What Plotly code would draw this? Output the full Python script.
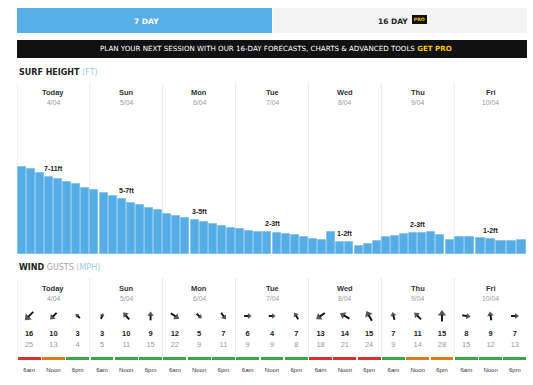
import math
import plotly.graph_objects as go

W, H = 533, 385

days = ["Today", "Sun", "Mon", "Tue", "Wed", "Thu", "Fri"]
dates = ["4/04", "5/04", "6/04", "7/04", "8/04", "9/04", "10/04"]

# surf height per 3-hour slot (ft), one row per day
surf_today = [8.7, 8.5, 8.1, 7.7, 7.5, 7.2, 7.0, 6.6]
surf_sun = [6.4, 6.1, 5.8, 5.5, 5.1, 4.9, 4.6, 4.4]
surf_mon = [4.0, 3.8, 3.6, 3.4, 3.2, 3.0, 2.8, 2.6]
surf_tue = [2.5, 2.3, 2.2, 2.2, 2.1, 2.0, 1.9, 1.7]
surf_wed = [1.5, 1.4, 2.2, 1.2, 1.2, 0.8, 1.0, 1.3]
surf_thu = [1.7, 1.8, 2.0, 2.1, 2.1, 2.2, 1.9, 1.4]
surf_fri = [1.7, 1.7, 1.6, 1.5, 1.3, 1.3, 1.4]
surf_ft = [surf_today, surf_sun, surf_mon, surf_tue, surf_wed, surf_thu, surf_fri]
surf_ranges = ["7-11ft", "5-7ft", "3-5ft", "2-3ft", "1-2ft", "2-3ft", "1-2ft"]

wind_times = ["6am", "Noon", "6pm"]
wind_mph = [[16, 10, 3], [3, 10, 9], [12, 5, 7], [6, 4, 7], [13, 14, 15], [7, 11, 15], [8, 9, 7]]
gust_mph = [[25, 13, 4], [5, 11, 15], [22, 9, 11], [9, 9, 8], [18, 21, 24], [9, 14, 28], [15, 12, 13]]
wind_dir_deg = [[225, 225, 315], [20, 320, 0], [125, 130, 145], [90, 90, 330],
                [235, 300, 330], [345, 315, 0], [100, 350, 90]]
wind_rating = [["poor", "fair", "good"], ["good", "good", "good"], ["good", "good", "good"],
               ["good", "good", "good"], ["poor", "poor", "poor"], ["good", "fair", "fair"],
               ["good", "good", "good"]]

rating_colors = {"poor": "#D8302A", "fair": "#E07B1C", "good": "#37A844"}
BAR_BLUE = "#56ADE5"
SEP = "#E9E9E9"
HEAD_FONT = "DejaVu Sans"
BODY_FONT = "Liberation Sans"

X0, X1 = 17, 527
PX_PER_DAY = (X1 - X0) / 7.0


def py(p):
    return 1 - p / H


def pxx(p):
    return p / W


def note(**kw):
    base = dict(showarrow=False, xanchor="center", yanchor="middle")
    base.update(kw)
    return base


fig = go.Figure()

# ---- surf bars ----
bx, by, bw = [], [], []
for d, vals in enumerate(surf_ft):
    n = len(vals)
    for i, v in enumerate(vals):
        bx.append(d + (i + 0.5) / n)
        by.append(v)
        bw.append(0.88 / n)
fig.add_trace(go.Bar(x=bx, y=by, width=bw, marker=dict(color=BAR_BLUE, line=dict(color="#74BBEA", width=0.8)),
                     hoverinfo="skip", xaxis="x", yaxis="y"))

# ---- wind colour strip ----
sx, sc = [], []
for d in range(len(days)):
    for j in range(3):
        sx.append(d + (j + 0.5) / 3)
        sc.append(rating_colors[wind_rating[d][j]])
fig.add_trace(go.Bar(x=sx, y=[3] * len(sx), base=357, width=0.94 / 3, marker=dict(color=sc, line=dict(width=0)),
                     hoverinfo="skip", xaxis="x", yaxis="y2"))

# ---- wind arrows (shaft lines + rotated triangle heads) ----
ARROW_Y = 316
lx, ly, hx, hy, hang, hsize = [], [], [], [], [], []
for d in range(len(days)):
    for j in range(3):
        s = wind_mph[d][j]
        th = math.radians(wind_dir_deg[d][j])
        L = 4.8 + 0.42 * s
        ux, uy = math.sin(th), -math.cos(th)          # screen direction (y down)
        cx, cy = d + (j + 0.5) / 3, ARROW_Y
        tail = (cx - ux * L / 2 / PX_PER_DAY, cy - uy * L / 2)
        hs = 3.6 + 0.24 * s
        neck = (cx + ux * (L / 2 - hs * 0.6) / PX_PER_DAY, cy + uy * (L / 2 - hs * 0.6))
        lx += [tail[0], neck[0], None]
        ly += [tail[1], neck[1], None]
        hcent = (cx + ux * (L / 2 - hs * 0.45) / PX_PER_DAY, cy + uy * (L / 2 - hs * 0.45))
        hx.append(hcent[0])
        hy.append(hcent[1])
        hang.append(wind_dir_deg[d][j])
        hsize.append(hs)
fig.add_trace(go.Scatter(x=lx, y=ly, mode="lines", line=dict(color="#111", width=1.9),
                         hoverinfo="skip", xaxis="x", yaxis="y2"))
fig.add_trace(go.Scatter(x=hx, y=hy, mode="markers",
                         marker=dict(symbol="triangle-up", size=hsize, angle=hang, color="#111",
                                     line=dict(width=0)),
                         hoverinfo="skip", xaxis="x", yaxis="y2"))

# ---- wind numbers ----
fig.add_trace(go.Scatter(x=sx, y=[334] * len(sx), mode="text",
                         text=[f"<b>{v}</b>" for row in wind_mph for v in row],
                         textfont=dict(family=BODY_FONT, size=7.5, color="#222"),
                         hoverinfo="skip", xaxis="x", yaxis="y2"))
fig.add_trace(go.Scatter(x=sx, y=[345] * len(sx), mode="text",
                         text=[str(v) for row in gust_mph for v in row],
                         textfont=dict(family=BODY_FONT, size=7.5, color="#9A9A9A"),
                         hoverinfo="skip", xaxis="x", yaxis="y2"))
fig.add_trace(go.Scatter(x=sx, y=[370] * len(sx), mode="text",
                         text=[wind_times[j] for d in range(len(days)) for j in range(3)],
                         textfont=dict(family=BODY_FONT, size=6, color="#333"),
                         hoverinfo="skip", xaxis="x", yaxis="y2"))

annotations = []
shapes = []

# tabs and banner
shapes.append(dict(type="rect", xref="paper", yref="paper", x0=pxx(17), x1=pxx(272), y0=py(33), y1=py(8),
                   fillcolor="#58AFE6", line=dict(width=0), layer="below"))
shapes.append(dict(type="rect", xref="paper", yref="paper", x0=pxx(273), x1=pxx(527), y0=py(33), y1=py(8),
                   fillcolor="#F3F3F3", line=dict(width=0), layer="below"))
shapes.append(dict(type="rect", xref="paper", yref="paper", x0=pxx(17), x1=pxx(527), y0=py(58), y1=py(40),
                   fillcolor="#111111", line=dict(width=0), layer="below"))
annotations.append(note(xref="paper", yref="paper", x=pxx(146), y=py(21), text="<b>7 DAY</b>",
                        font=dict(family=HEAD_FONT, size=7.5, color="white")))
annotations.append(note(xref="paper", yref="paper", x=pxx(392.5), y=py(21), text="<b>16 DAY</b>",
                        font=dict(family=HEAD_FONT, size=7.5, color="#222")))
annotations.append(note(xref="paper", yref="paper", x=pxx(419.5), y=py(19), text="<b>PRO</b>",
                        font=dict(family=HEAD_FONT, size=4.6, color="#F5C800"), bgcolor="#111",
                        borderpad=0.8, bordercolor="#111", borderwidth=1))
annotations.append(note(xref="paper", yref="paper", x=pxx(275.5), y=py(49),
                        text="PLAN YOUR NEXT SESSION WITH OUR 16-DAY FORECASTS, CHARTS &amp; ADVANCED TOOLS "
                             "<span style='color:#F5C800'><b>GET PRO</b></span>",
                        font=dict(family=HEAD_FONT, size=7.1, color="white")))

# section titles
annotations.append(note(xref="paper", yref="paper", x=pxx(16.5), y=py(72), xanchor="left",
                        text="<b>SURF HEIGHT</b> <span style='color:#9DCBEC'>(FT)</span>",
                        font=dict(family=HEAD_FONT, size=8, color="#222")))
annotations.append(note(xref="paper", yref="paper", x=pxx(16.5), y=py(267), xanchor="left",
                        text="<b>WIND</b> <span style='color:#A5A5A5'>GUSTS</span> <span style='color:#9DCBEC'>(MPH)</span>",
                        font=dict(family=HEAD_FONT, size=8, color="#222")))

# separators and headers
for d in range(len(days)):
    shapes.append(dict(type="line", xref="x", yref="paper", x0=d, x1=d, y0=py(254), y1=py(83),
                       line=dict(color=SEP, width=1), layer="below"))
    shapes.append(dict(type="line", xref="x", yref="paper", x0=d, x1=d, y0=py(355), y1=py(278),
                       line=dict(color=SEP, width=1), layer="below"))
    for top in (93, 288):
        annotations.append(note(xref="x", yref="paper", x=d + 0.5, y=py(top), text=f"<b>{days[d]}</b>",
                                font=dict(family=BODY_FONT, size=7.5, color="#333")))
        annotations.append(note(xref="x", yref="paper", x=d + 0.5, y=py(top + 10), text=dates[d],
                                font=dict(family=BODY_FONT, size=6.8, color="#9A9A9A")))
    vals = surf_ft[d]
    n = len(vals)
    mid = max(vals[(n - 1) // 2], vals[n // 2])
    annotations.append(note(xref="x", yref="y", x=d + 0.5, y=mid, yanchor="bottom", yshift=3,
                            text=f"<b>{surf_ranges[d]}</b>",
                            font=dict(family=BODY_FONT, size=7, color="#222")))

hidden = dict(showgrid=False, zeroline=False, showticklabels=False, showline=False, fixedrange=True)
fig.update_layout(
    width=W, height=H, margin=dict(l=0, r=0, t=0, b=0),
    paper_bgcolor="white", plot_bgcolor="rgba(0,0,0,0)",
    showlegend=False, barmode="overlay", bargap=0,
    xaxis=dict(domain=[pxx(X0), pxx(X1)], range=[0, 7], **hidden),
    yaxis=dict(domain=[py(254), py(83)], range=[0, 17.1], **hidden),
    yaxis2=dict(domain=[0, py(272)], range=[H, 272], anchor="x", **hidden),
    shapes=shapes, annotations=annotations,
)

fig.write_html("out.html", config={"displayModeBar": False},
               post_script="document.body.style.margin='0';document.body.style.overflow='hidden';")
